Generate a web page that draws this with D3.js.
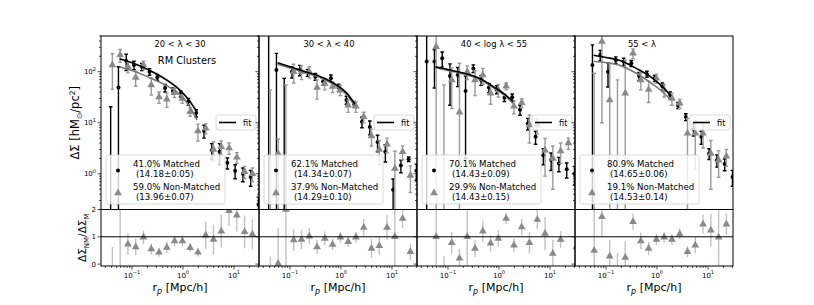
<!DOCTYPE html>
<html>
<head>
<meta charset="utf-8">
<script src="https://cdn.jsdelivr.net/npm/d3@7"></script>
<style>
  body { margin: 0; background: #fff; }
  text { font-family: "DejaVu Sans", sans-serif; }
</style>
</head>
<body>
<svg id="chart"></svg>
<script>
// radial bins (Mpc/h), same for every panel
const rp = [0.0382, 0.0543, 0.0771, 0.1095, 0.1556, 0.2211, 0.3141, 0.4462, 0.6339, 0.9005,
            1.279, 1.817, 2.582, 3.668, 5.212, 7.405, 10.52, 14.94, 21.23, 30.17];
const fitR = [0.057, 0.1, 0.2, 0.4, 0.8, 1.3, 1.88];

const titles = ["20 < λ < 30", "30 < λ < 40", "40 < log λ < 55", "55 < λ"];
const matchedText = ["41.0% Matched", "62.1% Matched", "70.1% Matched", "80.9% Matched"];
const matchedMass = ["(14.18±0.05)", "(14.34±0.07)", "(14.43±0.09)", "(14.65±0.06)"];
const nonMatchedText = ["59.0% Non-Matched", "37.9% Non-Matched", "29.9% Non-Matched", "19.1% Non-Matched"];
const nonMatchedMass = ["(13.96±0.07)", "(14.29±0.10)", "(14.43±0.15)", "(14.53±0.14)"];

// panel 1
const m1 = [-1, 49, 162, 135, 125, 100, 78, 48, 42, 37, 26, 15.5, 7.0, 2.9, 2.7, 1.64, 1.15, 1.0, 0.87, 0.25];
const em1 = [21.6, 76, 57, 25, 20, 15, 10, 8, 6, 5, 4, 2.5, 2.0, 1.0, 1.2, 0.4, 0.35, 0.3, 0.3, 0.1];
const nm1 = [135, 212, 125, 77, 135, 55, 32, 29, 39, 30, 16.4, 6.9, 7.8, 3.0, 3.4, 3.2, 2.1, 1.1, 1.0, null];
const enm1 = [90, 60, 30, 25, 25, 20, 8, 9, 8, 6, 3, 2.5, 1.8, 1.2, 1.0, 0.8, 0.5, 0.3, 0.3, null];
const r1 = [-0.5, 3, 0.73, 0.63, 0.98, 0.55, 0.43, 0.61, 0.85, 0.85, 0.6, 0.43, 1.06, 0.9, 1.2, 1.95, 1.79, 1.18, 1.09, null];
const er1 = [1.13, 3.5, 0.4, 0.3, 0.25, 0.2, 0.15, 0.2, 0.2, 0.2, 0.15, 0.15, 0.5, 0.55, 0.6, 0.55, 0.6, 0.6, 0.55, null];
const fitM1 = [180, 150, 112, 77, 47, 28, 16.4];
const fitNM1 = [125, 105, 80, 58, 38, 22, 11.3];

// panel 2
const m2 = [-1, 108, -1, 100, 108, 96, 80, 64, 74, 49, 28, 23, 10.5, 8.3, 4.2, 2.7, 0.49, 1.45, 1.93, 1.15];
const em2 = [10000, 120, 75, 25, 25, 15, 12, 10, 12, 8, 5, 3, 2.5, 2.5, 1.5, 1.0, 0.3, 0.4, 0.2, 0.4];
const nm2 = [-1, 2.5, -1, 100, 100, 100, 49, 59, 51, 44, 22, 21, 13.1, 5.5, 3.0, 3.8, 1.27, 2.7, 0.93, null];
const enm2 = [45, 2.3, 56, 40, 30, 25, 20, 15, 12, 10, 6, 5, 3, 2, 1.5, 1.2, 1.5, 0.8, 0.5, null];
const r2 = [-0.3, 0.02, 2, 0.88, 0.9, 1.02, 0.63, 0.94, 0.72, 0.98, 0.82, 0.98, 1.34, 0.57, 0.67, 1.34, 1.0, 1.67, 0.45, null];
const er2 = [0.57, 1.3, 3, 0.4, 0.35, 0.3, 0.25, 0.25, 0.2, 0.2, 0.2, 0.2, 0.3, 0.35, 0.35, 0.45, 3, 0.35, 0.3, null];
const fitM2 = [150, 125, 100, 80, 56, 38, 23];
const fitNM2 = [140, 118, 95, 76, 52, 35, 21];

// panel 3
const m3 = [158, 158, 183, 82, 86, 42, 116, 69, 49, 45, 31, 31.5, 18, 9.7, 5.3, 2.3, 1.86, 1.6, 1.23, 1.0];
const em3 = [1000, 110, 60, 60, 35, 40, 20, 15, 10, 8, 5, 5, 4, 2.5, 1.5, 0.8, 0.7, 0.5, 0.4, 0.4];
const nm3 = [null, 309, -1, 69, 16, 100, 69, 86, 38, 44, 52, 21, 24.6, 9.0, 9.0, 2.9, 2.0, 2.8, 4.0, null];
const enm3 = [null, 400, 56, 50, 130, 30, 35, 30, 15, 12, 8, 6, 5, 5, 3, 2, 1.5, 1.2, 1, null];
const r3 = [null, 1, -0.3, 0.78, 0.21, 1, 0.57, 1.2, 0.76, 0.94, 1.67, 0.69, 1.36, 0.78, 1.63, 1.12, 0.39, 0.9, null, 0.63];
const er3 = [null, 5, 0.6, 0.4, 0.35, 3, 0.3, 0.4, 0.3, 0.3, 0.2, 0.25, 0.3, 0.4, 0.35, 0.6, 0.5, 0.3, null, 0.5];
const fitM3 = [125, 110, 94, 75, 50, 36, 26];
const fitNM3 = [120, 106, 90, 72, 48, 34, 24];

// panel 4
const m4 = [null, 135, 212, 100, 170, 158, 146, 82, 90, 74, 52, 35, 22, 13, 7.5, 5.3, 2.5, 1.85, 1.55, 0.87];
const em4 = [null, 200, 50, 50, 25, 25, 20, 15, 12, 10, 8, 5, 3, 2, 2, 1.5, 0.6, 0.5, 0.4, 0.3];
const nm4 = [null, -1, 390, 28, -1, 38, 229, 69, 45, 74, 44, 30, 24, 6.2, 6.2, 6.2, 2.5, 1.85, 2.2, null];
const enm4 = [null, 94, 380, 118, 70, 130, 50, 25, 20, 15, 12, 8, 5, 6, 5, 3, 2, 1.0, 0.8, null];
const r4 = [null, 0.5, 1.73, 0.29, -0.3, 0.24, 1.55, 0.85, 0.57, 0.9, 0.98, 0.9, 1.1, 0.45, 0.69, 1.46, 1.24, 0.98, 1.46, null];
const er4 = [null, 2, 0.7, 0.6, 0.7, 0.6, 0.3, 0.3, 0.25, 0.2, 0.2, 0.2, 0.2, 0.2, 0.3, 0.35, 0.6, 3, 0.4, null];
const fitM4 = [210, 190, 162, 115, 76, 50, 33];
const fitNM4 = [160, 150, 130, 92, 58, 40, 28];

const panels = [
  { m: m1, em: em1, nm: nm1, enm: enm1, r: r1, er: er1, fm: fitM1, fnm: fitNM1 },
  { m: m2, em: em2, nm: nm2, enm: enm2, r: r2, er: er2, fm: fitM2, fnm: fitNM2 },
  { m: m3, em: em3, nm: nm3, enm: enm3, r: r3, er: er3, fm: fitM3, fnm: fitNM3 },
  { m: m4, em: em4, nm: nm4, enm: enm4, r: r4, er: er4, fm: fitM4, fnm: fitNM4 },
];

// layout
const marginLeft = 101, panelW = 158, topY = 36, midY = 209.5, bottomY = 266;
const titleX = [79, 70, 77, 67];
const nmShift = 1.08; // small x offset of the non-matched points
const grey = "#8a8a8a";
const triSize = 26;

const svg = d3.select("#chart").attr("width", 814).attr("height", 305);

const x = d3.scaleLog().domain([0.0247, 30.9]).range([0, panelW]);
const y = d3.scaleLog().domain([0.2, 500]).range([midY - topY, 0]);
const yr = d3.scaleLinear().domain([-0.07, 2]).range([bottomY - midY, 0]);

const defs = svg.append("defs");
defs.append("clipPath").attr("id", "clipTop")
  .append("rect").attr("width", panelW).attr("height", midY - topY);
defs.append("clipPath").attr("id", "clipBot")
  .append("rect").attr("width", panelW).attr("height", bottomY - midY);

function logLow(v, e) {
  const lo = v - e;
  return lo > 0 ? lo : 1e-4;
}

// error bars + markers
function drawSeries(g, xs, vals, errs, ys, isLog, opts) {
  const pts = xs.map((xv, i) => ({ x: xv, v: vals[i], e: errs[i] })).filter(d => d.v !== null);
  const lo = d => isLog ? logLow(d.v, d.e) : d.v - d.e;
  g.selectAll(null).data(pts).enter().append("line")
    .attr("x1", d => x(d.x)).attr("x2", d => x(d.x))
    .attr("y1", d => ys(lo(d))).attr("y2", d => ys(d.v + d.e))
    .attr("stroke", opts.errColor).attr("stroke-width", opts.lw);
  if (opts.cap) {
    [d => lo(d), d => d.v + d.e].forEach(f => {
      g.selectAll(null).data(pts).enter().append("line")
        .attr("x1", d => x(d.x) - opts.cap).attr("x2", d => x(d.x) + opts.cap)
        .attr("y1", d => ys(f(d))).attr("y2", d => ys(f(d)))
        .attr("stroke", opts.errColor).attr("stroke-width", opts.lw);
    });
  }
  const shown = pts.filter(d => !isLog || d.v > 0);
  if (opts.marker === "dot") {
    g.selectAll(null).data(shown).enter().append("circle")
      .attr("cx", d => x(d.x)).attr("cy", d => ys(d.v)).attr("r", 2)
      .attr("fill", opts.color);
  } else {
    g.selectAll(null).data(shown).enter().append("path")
      .attr("d", d3.symbol(d3.symbolTriangle, triSize))
      .attr("transform", d => `translate(${x(d.x)},${ys(d.v)})`)
      .attr("fill", opts.color);
  }
}

function supText(sel, base, exp, size) {
  sel.text(base);
  sel.append("tspan").attr("dy", -size * 0.45).attr("font-size", size * 0.72).text(exp);
}

panels.forEach((p, k) => {
  const px = marginLeft + k * panelW;

  // ---------- top panel ----------
  const gt = svg.append("g").attr("transform", `translate(${px},${topY})`);
  const gtc = gt.append("g").attr("clip-path", "url(#clipTop)");

  drawSeries(gtc, rp, p.m, p.em, y, true,
    { color: "#000", errColor: "#000", lw: 1.4, cap: 1.8, marker: "dot" });
  drawSeries(gtc, rp.map(v => v * nmShift), p.nm, p.enm, y, true,
    { color: grey, errColor: "#9a9a9a", lw: 1.4, cap: 1.8, marker: "tri" });

  const line = d3.line().x(d => x(d[0])).y(d => y(d[1])).curve(d3.curveMonotoneX);
  gtc.append("path").datum(fitR.map((r, i) => [r, p.fnm[i]]))
    .attr("d", line).attr("fill", "none").attr("stroke", "#7a7a7a").attr("stroke-width", 1.6);
  gtc.append("path").datum(fitR.map((r, i) => [r, p.fm[i]]))
    .attr("d", line).attr("fill", "none").attr("stroke", "#000").attr("stroke-width", 1.6);

  // y axis (log) with minor ticks
  const yTicks = y.ticks();
  gt.selectAll(null).data(yTicks).enter().append("line")
    .attr("x1", d => Number.isInteger(Math.log10(d)) ? -3.5 : -2).attr("x2", 0)
    .attr("y1", d => y(d)).attr("y2", d => y(d))
    .attr("stroke", "#000").attr("stroke-width", 0.7);
  if (k === 0) {
    [1, 10, 100].forEach((v, i) => {
      const t = gt.append("text").attr("x", -5).attr("y", y(v) + 2.5)
        .attr("text-anchor", "end").attr("font-size", 7);
      supText(t, "10", String(i), 7);
    });
  }
  gt.append("rect").attr("width", panelW).attr("height", midY - topY)
    .attr("fill", "none").attr("stroke", "#000").attr("stroke-width", 1);

  // title
  gt.append("text").attr("x", titleX[k]).attr("y", 10.5).attr("text-anchor", "middle")
    .attr("font-size", 8.4).text(titles[k]);
  if (k === 0) {
    gt.append("text").attr("x", 86).attr("y", 27.5).attr("text-anchor", "middle")
      .attr("font-size", 9.8).text("RM Clusters");
  }

  // fit legend
  const lf = gt.append("g").attr("transform", "translate(115,79)");
  lf.append("rect").attr("width", 40).attr("height", 15).attr("rx", 2)
    .attr("fill", "#fff").attr("fill-opacity", 0.8).attr("stroke", "#d0d0d0").attr("stroke-width", 0.8);
  lf.append("line").attr("x1", 3).attr("x2", 20).attr("y1", 7.5).attr("y2", 7.5)
    .attr("stroke", "#000").attr("stroke-width", 1.6);
  lf.append("text").attr("x", 27).attr("y", 10.5).attr("font-size", 8.2).text("fit");

  // sample legend
  const lg = gt.append("g").attr("transform", "translate(5,119)");
  lg.append("rect").attr("width", 119).attr("height", 49).attr("rx", 2)
    .attr("fill", "#fff").attr("fill-opacity", 0.8).attr("stroke", "#d0d0d0").attr("stroke-width", 0.8);
  lg.append("circle").attr("cx", 12).attr("cy", 15.5).attr("r", 2).attr("fill", "#000");
  lg.append("path").attr("d", d3.symbol(d3.symbolTriangle, triSize))
    .attr("transform", "translate(12,38)").attr("fill", grey);
  const fs = 8.6;
  lg.append("text").attr("x", 27).attr("y", 12.2).attr("font-size", fs).text(matchedText[k]);
  lg.append("text").attr("x", 30).attr("y", 22.2).attr("font-size", fs).text(matchedMass[k]);
  lg.append("text").attr("x", 27).attr("y", 34.6).attr("font-size", fs).text(nonMatchedText[k]);
  lg.append("text").attr("x", 30).attr("y", 44.6).attr("font-size", fs).text(nonMatchedMass[k]);

  // ---------- ratio panel ----------
  const gb = svg.append("g").attr("transform", `translate(${px},${midY})`);
  const gbc = gb.append("g").attr("clip-path", "url(#clipBot)");
  drawSeries(gbc, rp.map(v => v * nmShift), p.r, p.er, yr, false,
    { color: grey, errColor: "#c2c2c2", lw: 1.4, cap: 0, marker: "tri" });
  gb.append("line").attr("x1", 0).attr("x2", panelW).attr("y1", yr(1)).attr("y2", yr(1))
    .attr("stroke", "#000").attr("stroke-width", 1);

  gb.selectAll(null).data([0, 1, 2]).enter().append("line")
    .attr("x1", -3.5).attr("x2", 0).attr("y1", d => yr(d)).attr("y2", d => yr(d))
    .attr("stroke", "#000").attr("stroke-width", 0.7);
  if (k === 0) {
    gb.selectAll(null).data([0, 1, 2]).enter().append("text")
      .attr("x", -5).attr("y", d => yr(d) + 2.5).attr("text-anchor", "end")
      .attr("font-size", 7).text(d => d);
  }

  // x axis (log) with minor ticks
  const xTicks = x.ticks();
  gb.selectAll(null).data(xTicks).enter().append("line")
    .attr("x1", d => x(d)).attr("x2", d => x(d))
    .attr("y1", bottomY - midY).attr("y2", d => bottomY - midY + (Number.isInteger(Math.log10(d)) ? 3.5 : 2))
    .attr("stroke", "#000").attr("stroke-width", 0.7);
  [[0.1, "−1"], [1, "0"], [10, "1"]].forEach(([v, e]) => {
    const t = gb.append("text").attr("x", x(v)).attr("y", bottomY - midY + 11.5)
      .attr("text-anchor", "middle").attr("font-size", 7);
    supText(t, "10", e, 7);
  });
  gb.append("rect").attr("width", panelW).attr("height", bottomY - midY)
    .attr("fill", "none").attr("stroke", "#000").attr("stroke-width", 1);

  // x label
  const xl = svg.append("text").attr("x", px + panelW / 2).attr("y", 291)
    .attr("text-anchor", "middle").attr("font-size", 11);
  xl.append("tspan").text("r");
  xl.append("tspan").attr("font-size", 8).attr("font-style", "italic").attr("dy", 2.5).text("p");
  xl.append("tspan").attr("dy", -2.5).text(" [Mpc/h]");
});

// y labels
const yl = svg.append("text").attr("transform", `translate(79,${(topY + midY) / 2}) rotate(-90)`)
  .attr("text-anchor", "middle").attr("font-size", 11.5);
yl.append("tspan").text("ΔΣ [hM");
yl.append("tspan").attr("font-size", 7.5).attr("dy", 2.5).text("⊙");
yl.append("tspan").attr("dy", -2.5).text("/pc");
yl.append("tspan").attr("font-size", 7.5).attr("dy", -4).text("2");
yl.append("tspan").attr("dy", 4).text("]");

const yl2 = svg.append("text").attr("transform", `translate(86,${(midY + bottomY) / 2}) rotate(-90)`)
  .attr("text-anchor", "middle").attr("font-size", 10.5);
yl2.append("tspan").text("ΔΣ");
yl2.append("tspan").attr("font-size", 7).attr("dy", 2.5).text("NM");
yl2.append("tspan").attr("dy", -2.5).text("/ΔΣ");
yl2.append("tspan").attr("font-size", 7).attr("dy", 2.5).text("M");
</script>
</body>
</html>
